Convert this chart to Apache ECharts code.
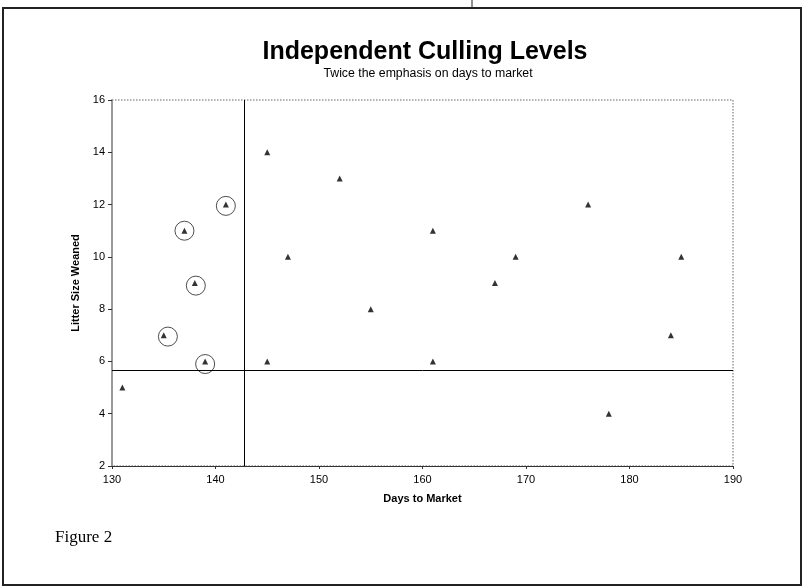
<!DOCTYPE html>
<html>
<head>
<meta charset="utf-8">
<script src="https://cdn.jsdelivr.net/npm/echarts@6/dist/echarts.min.js"></script>
<style>
* { margin: 0; padding: 0; }
#chart-container { width: 804px; height: 587px; background: #fff; }
</style>
</head>
<body>
<div id="chart-container"></div>
<script>
// days to market / litter size weaned
const days = [131, 135, 137, 138, 139, 141, 145, 145, 147, 152, 155, 161, 161, 167, 169, 176, 178, 184, 185]
const litter = [5, 7, 11, 9, 6, 12, 14, 6, 10, 13, 8, 11, 6, 9, 10, 12, 4, 7, 10]

// hand-drawn circles round the selected animals
const circledDays = [135.4, 137, 138.1, 139, 141]
const circledLitter = [6.95, 11, 8.9, 5.9, 11.95]

// culling levels
const dayCutoff = 142.8
const litterCutoff = 5.68

const xTicks = { min: 130, max: 190, interval: 10 }
const yTicks = { min: 2, max: 16, interval: 2 }

const chartDom = document.getElementById('chart-container')
const myChart = echarts.init(chartDom)

const plainFont = "'Liberation Sans', Arial, sans-serif"

const option = {
  animation: false,
  backgroundColor: '#fff',
  grid: {
    left: 112,
    right: 71,
    top: 100,
    bottom: 121,
    show: true,
    borderColor: '#999',
    borderWidth: 1.5,
    borderType: 'dotted'
  },
  xAxis: {
    type: 'value',
    min: xTicks.min,
    max: xTicks.max,
    interval: xTicks.interval,
    name: 'Days to Market',
    nameLocation: 'middle',
    nameGap: 27,
    nameTextStyle: { fontFamily: plainFont, fontWeight: 'bold', fontSize: 11, color: '#000' },
    axisLine: { lineStyle: { color: '#333', width: 1 } },
    axisTick: { show: true, length: 3, lineStyle: { color: '#333' } },
    axisLabel: { fontFamily: plainFont, fontSize: 11, color: '#000', margin: 8 },
    splitLine: { show: false }
  },
  yAxis: {
    type: 'value',
    min: yTicks.min,
    max: yTicks.max,
    interval: yTicks.interval,
    name: 'Litter Size Weaned',
    nameLocation: 'middle',
    nameRotate: 90,
    nameGap: 23,
    nameTextStyle: { fontFamily: plainFont, fontWeight: 'bold', fontSize: 11, color: '#000' },
    axisLine: { show: true, lineStyle: { color: '#999', width: 2 } },
    axisTick: { show: true, length: 4, lineStyle: { color: '#333' } },
    axisLabel: { fontFamily: plainFont, fontSize: 11, color: '#000', margin: 7 },
    splitLine: { show: false }
  },
  series: [
    {
      type: 'scatter',
      data: days.map((d, i) => [d, litter[i]]),
      symbol: 'triangle',
      symbolSize: 6,
      itemStyle: { color: '#000' },
      silent: true,
      markLine: {
        silent: true,
        symbol: 'none',
        label: { show: false },
        lineStyle: { color: '#000', width: 1, type: 'solid' },
        data: [
          { xAxis: dayCutoff },
          { yAxis: litterCutoff }
        ]
      }
    },
    {
      type: 'scatter',
      data: circledDays.map((d, i) => [d, circledLitter[i]]),
      symbol: 'circle',
      symbolSize: 19,
      itemStyle: { color: 'none', borderColor: '#222', borderWidth: 1 },
      silent: true
    }
  ],
  graphic: [
    {
      type: 'rect',
      shape: { x: 3, y: 8, width: 798, height: 577 },
      style: { fill: 'none', stroke: '#222', lineWidth: 2 }
    },
    {
      type: 'line',
      shape: { x1: 472, y1: 0, x2: 472, y2: 8 },
      style: { stroke: '#222', lineWidth: 1 }
    },
    {
      type: 'text',
      style: {
        x: 425,
        y: 52,
        text: 'Independent Culling Levels',
        textAlign: 'center',
        textVerticalAlign: 'middle',
        font: "bold 25px 'Liberation Sans', Arial, sans-serif",
        fill: '#000'
      }
    },
    {
      type: 'text',
      style: {
        x: 428,
        y: 74,
        text: 'Twice the emphasis on days to market',
        textAlign: 'center',
        textVerticalAlign: 'middle',
        font: "12.3px 'Liberation Sans', Arial, sans-serif",
        fill: '#000'
      }
    },
    {
      type: 'text',
      left: 55,
      top: 529,
      style: { text: 'Figure 2', font: "17px 'Liberation Serif', 'Times New Roman', serif", fill: '#000' }
    }
  ]
}

myChart.setOption(option)
</script>
</body>
</html>
